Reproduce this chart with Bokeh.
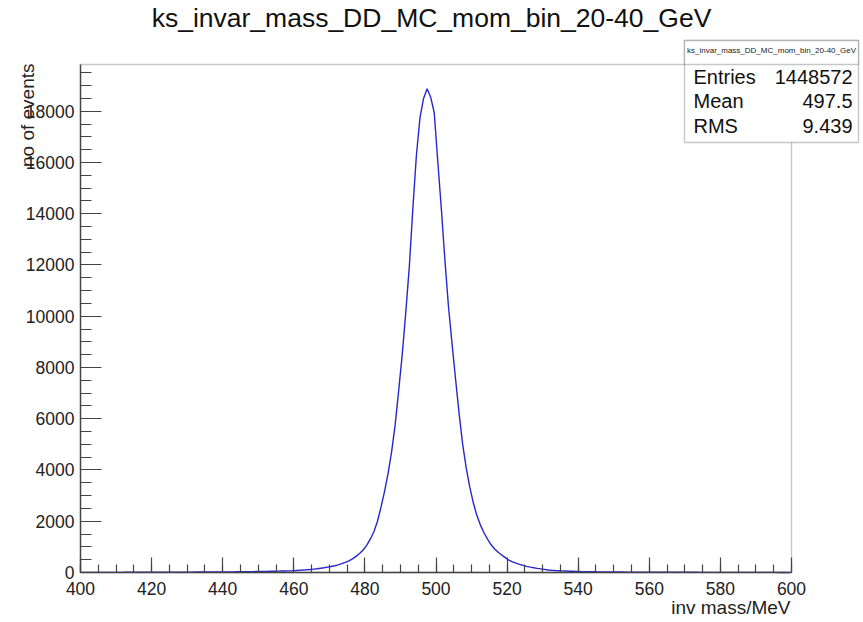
import numpy as np
from bokeh.plotting import figure
from bokeh.models import Label, BoxAnnotation, SingleIntervalTicker, ColumnDataSource
from bokeh.embed import file_html
from bokeh.resources import INLINE

# ---- data -----------------------------------------------------------------
title_text = "ks_invar_mass_DD_MC_mom_bin_20-40_GeV"
x_label = "inv mass/MeV"
y_label = "no of events"
stats_names = ["Entries", "Mean", "RMS"]
stats_values = ["1448572", "497.5", "9.439"]

bin_low = 400.0
bin_width = 1.0
counts = [
    3, 4, 4, 4, 4, 5, 5, 5, 5, 6,
    6, 6, 7, 7, 7, 8, 8, 8, 9, 9,
    10, 10, 11, 11, 12, 12, 13, 14, 14, 15,
    16, 16, 17, 18, 19, 19, 20, 21, 22, 23,
    24, 25, 26, 27, 29, 30, 32, 33, 35, 37,
    39, 41, 43, 46, 49, 52, 56, 60, 65, 71,
    78, 86, 95, 106, 118, 132, 148, 165, 185, 210,
    235, 265, 300, 345, 395, 455, 530, 630, 740, 880,
    1060, 1300, 1580, 1980, 2530, 3150, 3850, 4700, 5750, 7100,
    8500, 10150, 11950, 14230, 16300, 17750, 18500, 18880, 18550, 17950,
    16050, 14200, 12200, 10400, 8950, 7550, 6200, 5000, 4080, 3330,
    2720, 2220, 1850, 1550, 1300, 1080, 920, 790, 680, 580,
    480, 415, 365, 320, 280, 240, 210, 185, 160, 140,
    120, 100, 88, 78, 70, 62, 56, 50, 46, 42,
    38, 35, 32, 30, 28, 26, 24, 22, 21, 20,
    19, 18, 17, 16, 15, 15, 14, 13, 13, 12,
    12, 11, 11, 10, 10, 9, 9, 9, 8, 8,
    8, 7, 7, 7, 6, 6, 6, 6, 5, 5,
    5, 5, 5, 4, 4, 4, 4, 4, 4, 3,
    3, 3, 3, 3, 3, 3, 2, 2, 2, 2,
]
centers = bin_low + bin_width * (np.arange(len(counts)) + 0.5)
x_lo, x_hi = 400, 600
y_top = max(counts) * 1.05

# ---- layout (pixels) --------------------------------------------------------
W, H = 860, 621
FL, FR, FT, FB = 80, 791, 64, 572      # visible histogram frame on the page
kx = (FR - FL) / (x_hi - x_lo)
ky = (FB - FT) / y_top
x_range = (x_lo - FL / kx, x_lo + (W - FL) / kx)
y_range = (-(H - FB) / ky, FB / ky)

FONT = "Liberation Sans"
AX = "#444444"

p = figure(width=W, height=H, x_range=x_range, y_range=y_range,
           output_backend="svg", toolbar_location=None,
           min_border=0, min_border_left=0, min_border_right=0,
           min_border_top=0, min_border_bottom=0)
p.background_fill_color = "white"
p.border_fill_color = "white"
p.outline_line_color = None
p.grid.visible = False

src = ColumnDataSource(dict(x=centers, y=counts))
p.line("x", "y", source=src, line_color="#2727d0", line_width=1.4)

# frame box
p.add_layout(BoxAnnotation(left=x_lo, right=x_hi, bottom=0, top=y_top,
                           fill_color=None, fill_alpha=0, line_color=AX,
                           line_width=1.4, level="underlay"))

# axes
p.xaxis.ticker = SingleIntervalTicker(interval=20, num_minor_ticks=4)
p.yaxis.ticker = SingleIntervalTicker(interval=2000, num_minor_ticks=4)
p.xaxis.fixed_location = 0
p.yaxis.fixed_location = x_lo
p.xaxis.bounds = (x_lo, x_hi)
p.yaxis.bounds = (0, y_top)
for ax in (p.xaxis, p.yaxis):
    ax.axis_line_color = AX
    ax.axis_line_width = 1.4
    ax.major_tick_line_color = AX
    ax.minor_tick_line_color = AX
    ax.major_tick_line_width = 1.2
    ax.minor_tick_line_width = 1.2
    ax.major_tick_out = 0
    ax.minor_tick_out = 0
    ax.major_label_text_font = FONT
    ax.major_label_text_font_size = "17.5px"
    ax.major_label_text_color = "#222222"
p.xaxis.major_tick_in = 15
p.xaxis.minor_tick_in = 8
p.yaxis.major_tick_in = 21
p.yaxis.minor_tick_in = 11
p.xaxis.major_label_standoff = 9
p.yaxis.major_label_standoff = 6


def lab(px, py, text, size, align, baseline="alphabetic", angle=0.0, color="#111111"):
    p.add_layout(Label(x=px, y=H - py, x_units="screen", y_units="screen", text=text,
                       angle=angle, text_font=FONT, text_font_size=size,
                       text_align=align, text_baseline=baseline, text_color=color,
                       level="overlay"))


lab(431, 17, title_text, "26.5px", "center")
lab(790, 607, x_label, "19px", "right", color="#222222")
lab(27, 63, y_label, "19px", "right", angle=np.pi / 2, color="#222222")

# stats box
for top, bottom in ((40, 142), (40, 64)):
    p.add_layout(BoxAnnotation(left=684, right=858, top=H - top, bottom=H - bottom,
                               left_units="screen", right_units="screen",
                               top_units="screen", bottom_units="screen",
                               fill_color="white", fill_alpha=1.0,
                               line_color=AX, line_width=1.4, level="overlay"))
lab(771, 50, title_text, "8px", "center", baseline="middle", color="#222222")
for i, (nm, vl) in enumerate(zip(stats_names, stats_values)):
    by = 76 + 24.5 * i
    lab(693, by, nm, "20px", "left")
    lab(852, by, vl, "20px", "right")

open("out.html", "w").write(file_html(p, INLINE))
